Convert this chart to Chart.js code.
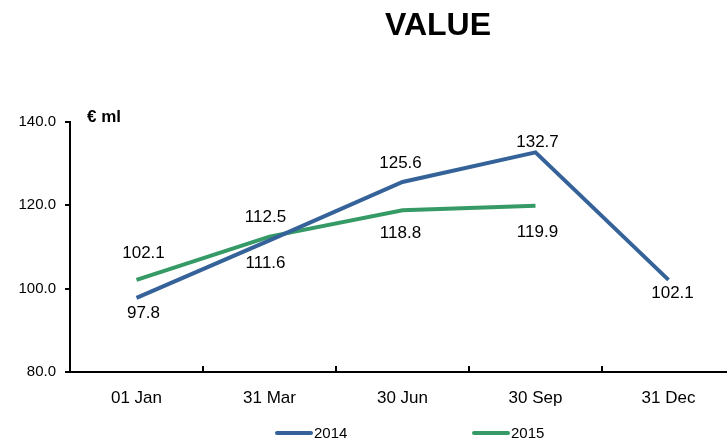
<!DOCTYPE html>
<html lang="en">
<head>
  <meta charset="UTF-8">
  <title>VALUE</title>
  <script src="https://cdn.jsdelivr.net/npm/chart.js"></script>
  <style>
    html, body { margin: 0; padding: 0; background: #fff; overflow: hidden; }
    /* the plot runs a few pixels past the right edge of the window, as in the original */
    #wrap { width: 735px; height: 440px; position: relative; }
  </style>
</head>
<body>
  <div id="wrap"><canvas id="chart"></canvas></div>

  <script>
    // data
    const categories = ["01 Jan", "31 Mar", "30 Jun", "30 Sep", "31 Dec"];
    const values2014 = [97.8, 111.6, 125.6, 132.7, 102.1];
    const values2015 = [102.1, 112.5, 118.8, 119.9, null];
    const yTicks = [80, 100, 120, 140];

    const BLUE = "#356399";
    const GREEN = "#359a66";
    const FONT = "'Liberation Sans', Arial, sans-serif";

    // where each value label sits relative to its point
    const labelOffsets = [
      [[7, 15], [-4, 23], [-2, -19], [2, -10], [4, 13]],
      [[7, -27], [-4, -19], [-2, 23], [2, 27], null]
    ];

    const extras = {
      id: "extras",
      afterDatasetsDraw(chart) {
        const ctx = chart.ctx;
        const xs = chart.scales.x;
        const area = chart.chartArea;

        // x ticks pointing up, between categories
        ctx.save();
        ctx.strokeStyle = "#000";
        ctx.lineWidth = 2;
        const step = xs.getPixelForValue(1) - xs.getPixelForValue(0);
        for (let i = 1; i < categories.length; i++) {
          const x = Math.round(xs.getPixelForValue(i) - step / 2);
          ctx.beginPath();
          ctx.moveTo(x, area.bottom);
          ctx.lineTo(x, area.bottom - 6);
          ctx.stroke();
        }

        // value labels
        ctx.fillStyle = "#000";
        ctx.font = "17px " + FONT;
        ctx.textAlign = "center";
        ctx.textBaseline = "middle";
        chart.data.datasets.forEach((ds, di) => {
          const meta = chart.getDatasetMeta(di);
          ds.data.forEach((v, i) => {
            if (v === null) return;
            const pt = meta.data[i];
            const off = labelOffsets[di][i];
            ctx.fillText(v.toFixed(1), pt.x + off[0], pt.y + off[1]);
          });
        });

        // unit label
        ctx.font = "bold 17px " + FONT;
        ctx.textAlign = "left";
        ctx.fillText("€ ml", 87, 117);

        // title
        ctx.font = "bold 32px " + FONT;
        ctx.textAlign = "center";
        ctx.fillText("VALUE", 438, 26);

        // legend
        ctx.font = "15px " + FONT;
        ctx.textAlign = "left";
        ctx.lineCap = "round";
        ctx.lineWidth = 4;
        const legendX = [277, 474];
        chart.data.datasets.forEach((ds, di) => {
          const lx = legendX[di];
          ctx.strokeStyle = ds.borderColor;
          ctx.beginPath();
          ctx.moveTo(lx, 433);
          ctx.lineTo(lx + 34, 433);
          ctx.stroke();
          ctx.fillText(ds.label, lx + 37, 434);
        });
        ctx.restore();
      }
    };

    new Chart(document.getElementById("chart"), {
      type: "line",
      data: {
        labels: categories,
        datasets: [
          {
            label: "2014",
            data: values2014,
            borderColor: BLUE,
            backgroundColor: BLUE,
            borderWidth: 4,
            pointRadius: 0,
            tension: 0
          },
          {
            label: "2015",
            data: values2015,
            borderColor: GREEN,
            backgroundColor: GREEN,
            borderWidth: 4,
            pointRadius: 0,
            tension: 0
          }
        ]
      },
      options: {
        responsive: true,
        maintainAspectRatio: false,
        animation: false,
        layout: { padding: { top: 122, right: 0, left: 0, bottom: 0 } },
        plugins: {
          legend: { display: false },
          title: { display: false },
          tooltip: { enabled: false }
        },
        scales: {
          x: {
            offset: true,
            grid: { display: false, offset: true },
            border: { color: "#000", width: 2 },
            ticks: {
              color: "#000",
              font: { family: FONT, size: 17 },
              padding: 8,
              maxRotation: 0
            },
            afterFit(scale) { scale.height = 68; }
          },
          y: {
            min: 80,
            max: 140,
            afterBuildTicks(scale) { scale.ticks = yTicks.map(v => ({ value: v })); },
            grid: {
              drawOnChartArea: false,
              drawTicks: true,
              tickLength: 5,
              color: "#000",
              lineWidth: 2
            },
            border: { color: "#000", width: 2 },
            ticks: {
              color: "#000",
              font: { family: FONT, size: 15 },
              padding: 9,
              callback: v => v.toFixed(1)
            },
            afterFit(scale) { scale.width = 70; }
          }
        }
      },
      plugins: [extras]
    });
  </script>
</body>
</html>
